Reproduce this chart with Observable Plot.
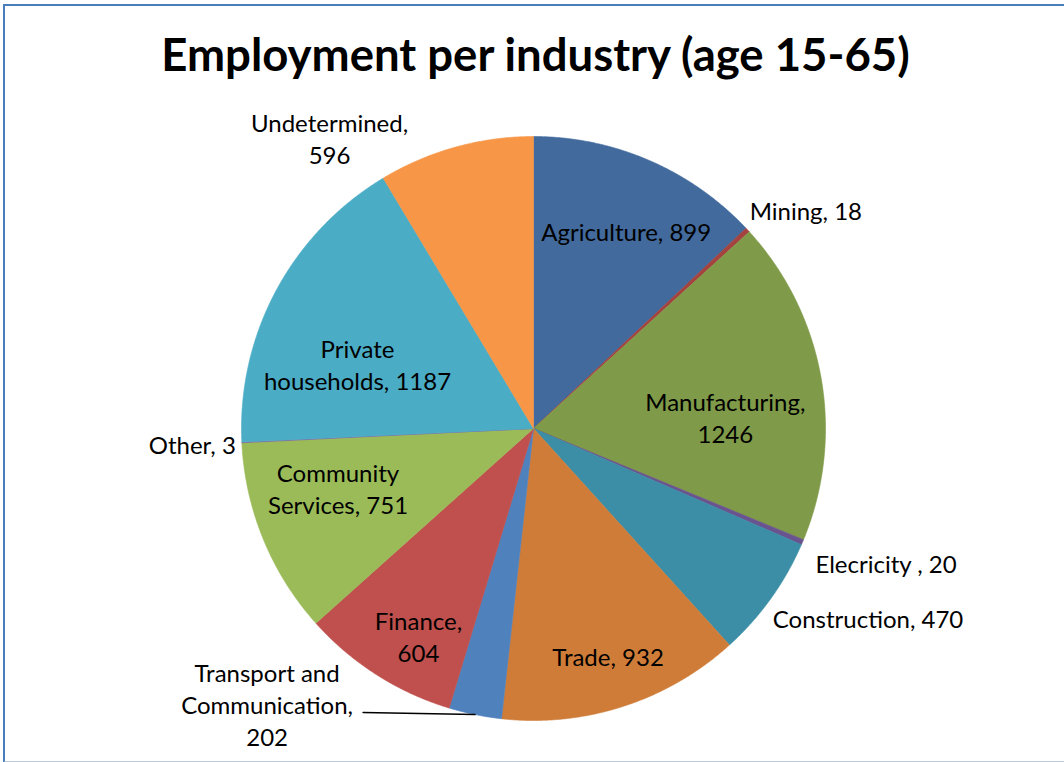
<!DOCTYPE html>
<html><head><meta charset="utf-8">
<script src="https://cdn.jsdelivr.net/npm/d3@7"></script>
<script src="https://cdn.jsdelivr.net/npm/@observablehq/plot@0.6"></script>
<style>
html,body{margin:0;padding:0;background:#fff;}
#wrap{position:relative;width:1064px;height:762px;overflow:hidden;}
#border{position:absolute;left:3px;top:4px;width:1070px;height:755px;border-left:2px solid #4A7EBB;border-top:2px solid #4A7EBB;border-bottom:2px solid #BACBE0;pointer-events:none;}
#chart{position:absolute;left:0;top:0;}
</style></head><body>
<div id="wrap"><div id="chart"></div><div id="border"></div></div>
<script>
// ---- data ----
const title = "Employment per industry (age 15-65)";
const industries = ["Agriculture","Mining","Manufacturing","Elecricity","Construction","Trade","Transport and Communication","Finance","Community Services","Other","Private households","Undetermined"];
const employment = [899, 18, 1246, 20, 470, 932, 202, 604, 751, 3, 1187, 596];
const labelPrefix = ["Agriculture, ","Mining, ","Manufacturing,\n","Elecricity , ","Construction, ","Trade, ","Transport and\nCommunication,\n","Finance,\n","Community\nServices, ","Other, ","Private\nhouseholds, ","Undetermined,\n"];
const colors = ["#426A9C","#A4423F","#7F9A48","#69548F","#3B8EA5","#CF7C38","#4F81BD","#C0504D","#9BBB59","#8064A2","#4BACC6","#F79646"];

// ---- label layout (radius factor, pixel nudges, anchor) ----
const labelRadius = [0.74, 1, 0.66, 1, 1, 0.83, 1, 0.74, 0.72, 1, 0.68, 1];
const labelDx = [7, 2, 2, 13, 2, 0, -208, 1, -1, -6, -1, -126];
const labelDy = [1, -20, 22, 21, 19, -3, -11, 25, -21, 1, 29, -9];
const labelAnchor = ["middle","start","middle","start","start","middle","middle","middle","middle","end","middle","middle"];
const leader = [false,false,false,false,false,false,true,false,false,false,false,false];

// ---- geometry ----
const W = 1064, H = 762, cx = 533, cy = 428, R = 292;
const arcs = d3.pie().sort(null).value(d => d)(employment);

const slicePts = [];
arcs.forEach((a, i) => {
  const n = Math.max(2, Math.ceil((a.endAngle - a.startAngle) / (Math.PI / 720)));
  slicePts.push({industry: industries[i], x: 0, y: 0});
  for (let k = 0; k <= n; k++) {
    const t = a.startAngle + (a.endAngle - a.startAngle) * k / n;
    slicePts.push({industry: industries[i], x: Math.sin(t), y: -Math.cos(t)});
  }
  slicePts.push({industry: industries[i], x: 0, y: 0});
});

const labels = arcs.map((a, i) => {
  const m = (a.startAngle + a.endAngle) / 2;
  return {
    industry: industries[i],
    text: labelPrefix[i] + employment[i],
    anchor: labelAnchor[i],
    rimX: Math.sin(m), rimY: -Math.cos(m),
    x: labelRadius[i] * Math.sin(m) + labelDx[i] / R,
    y: -labelRadius[i] * Math.cos(m) + labelDy[i] / R
  };
});

const leaderPts = [];
labels.forEach((l, i) => {
  if (!leader[i]) return;
  leaderPts.push({k: i, x: l.rimX, y: l.rimY});
  leaderPts.push({k: i, x: l.x + 96 / R, y: l.rimY - 2 / R});
});

const font = "Lato, 'Open Sans', sans-serif";
const fs = 24;

const chart = Plot.plot({
  width: W, height: H,
  margin: 0,
  x: {domain: [-cx / R, (W - cx) / R], range: [0, W], axis: null},
  y: {domain: [-cy / R, (H - cy) / R], range: [0, H], axis: null},
  color: {domain: industries, range: colors},
  style: {fontFamily: font, background: "white", color: "black"},
  marks: [
    Plot.line(slicePts, {x: "x", y: "y", z: "industry", fill: "industry", stroke: "industry", strokeWidth: 0.6, curve: "linear", strokeLinejoin: "round"}),
    Plot.line(leaderPts, {x: "x", y: "y", z: "k", stroke: "black", strokeWidth: 1.5}),
    Plot.text(labels.filter(d => d.anchor === "middle"), {x: "x", y: "y", text: "text", textAnchor: "middle", lineAnchor: "middle", lineHeight: 1.33, fontSize: fs, fill: "black"}),
    Plot.text(labels.filter(d => d.anchor === "start"), {x: "x", y: "y", text: "text", textAnchor: "start", lineAnchor: "middle", lineHeight: 1.33, fontSize: fs, fill: "black"}),
    Plot.text(labels.filter(d => d.anchor === "end"), {x: "x", y: "y", text: "text", textAnchor: "end", lineAnchor: "middle", lineHeight: 1.33, fontSize: fs, fill: "black"}),
    Plot.text([title], {frameAnchor: "top", dx: 3, dy: 56, lineAnchor: "middle", fontSize: 45.5, fontWeight: "bold", fill: "black"})
  ]
});
document.getElementById("chart").appendChild(chart);
</script>
</body></html>
